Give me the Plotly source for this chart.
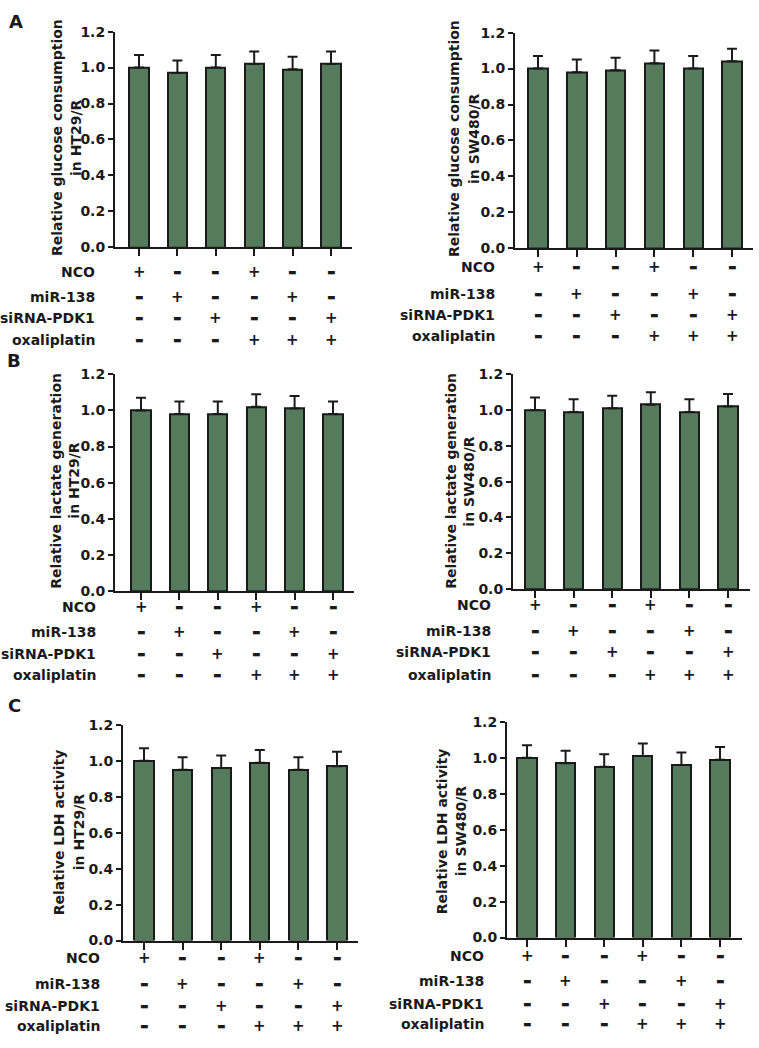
import plotly.graph_objects as go

W, H = 759, 1048

# ---------------- data ----------------
groups = [0, 1, 2, 3, 4, 5]
row_labels = ["NCO", "miR-138", "siRNA-PDK1", "oxaliplatin"]
signs_nco = ["+", "-", "-", "+", "-", "-"]
signs_mir = ["-", "+", "-", "-", "+", "-"]
signs_sirna = ["-", "-", "+", "-", "-", "+"]
signs_oxa = ["-", "-", "-", "+", "+", "+"]

glucose_ht29 = [1.00, 0.97, 1.00, 1.02, 0.99, 1.02]
glucose_ht29_err = [0.07, 0.07, 0.07, 0.07, 0.07, 0.07]
glucose_sw480 = [1.00, 0.98, 0.99, 1.03, 1.00, 1.04]
glucose_sw480_err = [0.07, 0.07, 0.07, 0.07, 0.07, 0.07]
lactate_ht29 = [1.00, 0.98, 0.98, 1.02, 1.01, 0.98]
lactate_ht29_err = [0.07, 0.07, 0.07, 0.07, 0.07, 0.07]
lactate_sw480 = [1.00, 0.99, 1.01, 1.03, 0.99, 1.02]
lactate_sw480_err = [0.07, 0.07, 0.07, 0.07, 0.07, 0.07]
ldh_ht29 = [1.00, 0.95, 0.96, 0.99, 0.95, 0.97]
ldh_ht29_err = [0.07, 0.07, 0.07, 0.07, 0.07, 0.08]
ldh_sw480 = [1.00, 0.97, 0.95, 1.01, 0.96, 0.99]
ldh_sw480_err = [0.07, 0.07, 0.07, 0.07, 0.07, 0.07]

y_ticks = [0.0, 0.2, 0.4, 0.6, 0.8, 1.0, 1.2]
y_title_1 = ["Relative glucose consumption", "Relative glucose consumption",
             "Relative lactate generation", "Relative lactate generation",
             "Relative LDH activity", "Relative LDH activity"]
y_title_2 = ["in HT29/R", "in SW480/R", "in HT29/R", "in SW480/R", "in HT29/R", "in SW480/R"]
panel_letters = ["A", "B", "C"]

series = [
    (glucose_ht29, glucose_ht29_err),
    (glucose_sw480, glucose_sw480_err),
    (lactate_ht29, lactate_ht29_err),
    (lactate_sw480, lactate_sw480_err),
    (ldh_ht29, ldh_ht29_err),
    (ldh_sw480, ldh_sw480_err),
]
sign_rows = [signs_nco, signs_mir, signs_sirna, signs_oxa]

# ---------------- layout geometry (pixels) ----------------
geom = [
    dict(ax=115, end=352, c0=139, c5=331, y0=243, y12=24,
         rows=[268, 293, 315, 337], lab=97, t1=57, t2=76, tc=132),
    dict(ax=515, end=753, c0=538, c5=732, y0=244, y12=25,
         rows=[263, 290, 312, 333], lab=497, t1=454, t2=474, tc=132),
    dict(ax=115, end=354, c0=141, c5=333, y0=592, y12=372,
         rows=[608, 634, 656, 677], lab=98, t1=56, t2=74, tc=480),
    dict(ax=513, end=750, c0=535, c5=728, y0=590, y12=372,
         rows=[606, 633, 654, 677], lab=493, t1=451, t2=469, tc=480),
    dict(ax=123, end=358, c0=144, c5=337, y0=947, y12=728,
         rows=[965, 991, 1013, 1034], lab=102, t1=59, t2=79, tc=837),
    dict(ax=507, end=742, c0=527, c5=720, y0=944, y12=725,
         rows=[963, 988, 1011, 1032], lab=486, t1=442, t2=461, tc=836),
]
letter_pos = [(16, 14), (14, 358), (14, 708)]

BAR = "#567a5c"
INK = "#1a1a1a"
FONT = "DejaVu Sans, sans-serif"

def px(x):
    return x / W

def py(y):
    return 1 - y / H

fig = go.Figure()
annotations = []
layout_axes = {}

for i, ((vals, errs), g) in enumerate(zip(series, geom)):
    n = i + 1
    xa = "x" if n == 1 else f"x{n}"
    ya = "y" if n == 1 else f"y{n}"
    s = (g["c5"] - g["c0"]) / 5.0
    lo = -(g["c0"] - g["ax"]) / s
    hi = 5 + (g["end"] - g["c5"]) / s
    fig.add_trace(go.Bar(
        x=groups, y=vals, xaxis=xa, yaxis=ya, width=0.5,
        marker=dict(color=BAR, line=dict(color=INK, width=2)),
        error_y=dict(type="data", array=errs, symmetric=False,
                     arrayminus=[0] * len(errs), color=INK, thickness=2, width=5),
        showlegend=False, hoverinfo="y",
    ))
    xkey = "xaxis" if n == 1 else f"xaxis{n}"
    ykey = "yaxis" if n == 1 else f"yaxis{n}"
    layout_axes[xkey] = dict(
        domain=[px(g["ax"]), px(g["end"])], range=[lo, hi], anchor=ya,
        showgrid=False, zeroline=False, showline=True, linecolor=INK, linewidth=2,
        ticks="outside", ticklen=7, tickwidth=2, tickcolor=INK,
        tickvals=groups, showticklabels=False, fixedrange=True,
    )
    layout_axes[ykey] = dict(
        domain=[py(g["y0"]), py(g["y12"])], range=[0, 1.2], anchor=xa,
        showgrid=False, zeroline=False, showline=True, linecolor=INK, linewidth=2,
        ticks="outside", ticklen=5, tickwidth=2, tickcolor=INK,
        tickvals=y_ticks, tickformat=".1f", ticklabelstandoff=0,
        tickfont=dict(family=FONT, size=14, color=INK, weight="bold"),
        fixedrange=True,
    )
    for t, tx in ((y_title_1[i], g["t1"]), (y_title_2[i], g["t2"])):
        annotations.append(dict(
            text=t, xref="paper", yref="paper", x=px(tx), y=py(g["tc"]),
            xanchor="center", yanchor="middle", textangle=-90, showarrow=False,
            font=dict(family=FONT, size=14, color=INK, weight="bold")))
    for r, (lab, signs) in enumerate(zip(row_labels, sign_rows)):
        yr = py(g["rows"][r])
        annotations.append(dict(
            text=lab, xref="paper", yref="paper", x=px(g["lab"]), y=yr,
            xanchor="right", yanchor="middle", showarrow=False,
            font=dict(family=FONT, size=14, color=INK, weight="bold")))
        for k, sg in zip(groups, signs):
            plus = sg == "+"
            annotations.append(dict(
                text="+" if plus else "\u25ac", xref=xa, yref="paper", x=k, y=yr,
                xanchor="center", yanchor="middle", showarrow=False,
                font=dict(family=FONT, size=15 if plus else 9, color=INK,
                          weight="bold")))

for letter, (lx, ly) in zip(panel_letters, letter_pos):
    annotations.append(dict(
        text=letter, xref="paper", yref="paper", x=px(lx), y=py(ly),
        xanchor="center", yanchor="middle", showarrow=False,
        font=dict(family=FONT, size=18, color=INK, weight="bold")))

fig.update_layout(
    width=W, height=H, margin=dict(l=0, r=0, t=0, b=0),
    paper_bgcolor="white", plot_bgcolor="white",
    annotations=annotations, bargap=0, **layout_axes,
)

fig.write_html("out.html", config={"displayModeBar": False},
               post_script="document.body.style.margin='0';document.body.style.padding='0';")
